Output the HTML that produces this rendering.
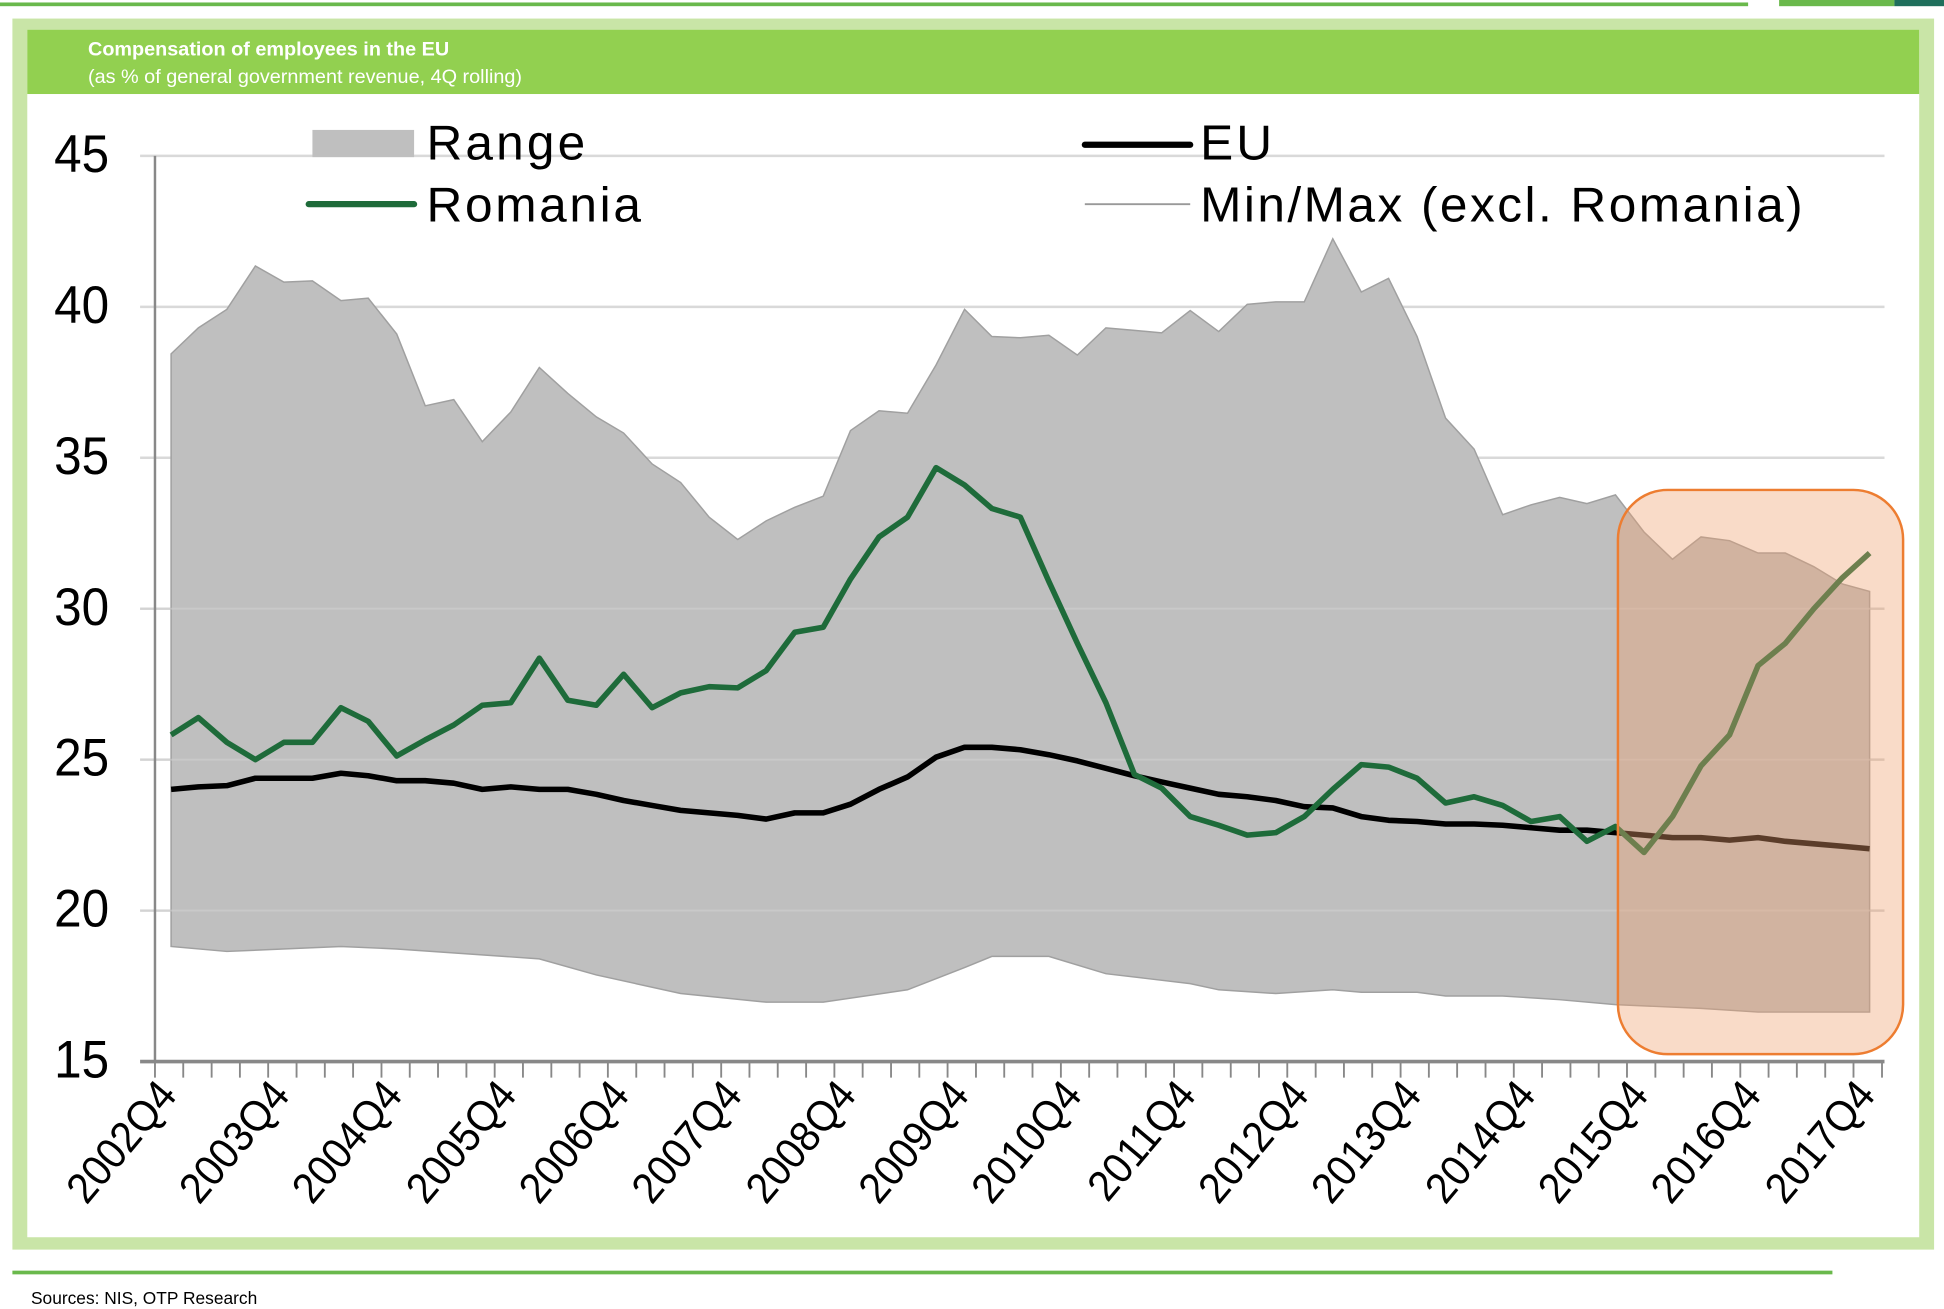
<!DOCTYPE html>
<html><head><meta charset="utf-8"><style>
html,body{margin:0;padding:0;background:#fff;width:1944px;height:1309px;overflow:hidden}
svg{display:block}
text{font-family:"Liberation Sans",Arial,sans-serif}
</style></head><body>
<svg width="1944" height="1309" viewBox="0 0 1568 1058" preserveAspectRatio="none" xmlns="http://www.w3.org/2000/svg">
<rect x="0" y="2" width="1410" height="3" fill="#6ab94c"/>
<rect x="1435" y="0" width="93" height="5" fill="#6ab94c"/>
<rect x="1528" y="0" width="40" height="5" fill="#1f6f5c"/>
<rect x="10" y="15" width="1550" height="995" fill="#c9e5a7"/>
<rect x="22" y="24" width="1526" height="976" fill="#fff"/>
<rect x="22" y="24" width="1526" height="52" fill="#92d050"/>
<text x="71" y="45" font-size="16" font-weight="bold" fill="#fff">Compensation of employees in the EU</text>
<text x="71" y="67" font-size="16" fill="#fff">(as % of general government revenue, 4Q rolling)</text>
<g stroke="#d9d9d9" stroke-width="2">
<line x1="113" y1="126" x2="1520" y2="126"/><line x1="113" y1="248" x2="1520" y2="248"/>
<line x1="113" y1="370" x2="1520" y2="370"/><line x1="113" y1="492" x2="1520" y2="492"/>
<line x1="113" y1="614" x2="1520" y2="614"/><line x1="113" y1="736" x2="1520" y2="736"/>
</g>
<polygon fill="#bfbfbf" stroke="#a0a0a0" stroke-width="1.2" points="138,286 160,265 183,250 206,215 229,228 252,227 275,243 297,241 320,270 343,328 366,323 389,357 412,333 435,297 458,318 481,337 503,350 526,375 549,390 572,418 595,436 618,421 641,410 664,401 686,348 709,332 732,334 755,295 778,250 800,272 823,273 846,271 869,287 892,265 915,267 937,269 960,251 983,268 1006,246 1029,244 1052,244 1075,193 1098,236 1120,225 1143,272 1166,338 1189,363 1212,416 1235,408 1258,402 1280,407 1303,400 1326,430 1349,452 1372,434 1395,437 1418,447 1440,447 1463,458 1486,472 1508,478 1508,818 1418,818 1372,815 1303,812 1258,808 1212,805 1166,805 1143,802 1098,802 1075,800 1029,803 983,800 960,795 892,787 846,773 800,773 778,782 732,800 664,810 618,810 549,803 481,788 435,775 320,767 275,765 183,769 138,765"/>
<g stroke="#d0d0d0" stroke-width="1.5" opacity="0.6">
<line x1="113" y1="492" x2="1520" y2="492"/><line x1="113" y1="614" x2="1520" y2="614"/><line x1="113" y1="736" x2="1520" y2="736"/>
</g>
<polyline fill="none" stroke="#000" stroke-width="4.5" stroke-linejoin="round" points="138,638 160,636 183,635 206,629 229,629 252,629 275,625 297,627 320,631 343,631 366,633 389,638 412,636 435,638 458,638 481,642 503,647 526,651 549,655 572,657 595,659 618,662 641,657 664,657 686,650 709,638 732,628 755,612 778,604 800,604 823,606 846,610 869,615 892,621 915,627 937,632 960,637 983,642 1006,644 1029,647 1052,652 1075,653 1098,660 1120,663 1143,664 1166,666 1189,666 1212,667 1235,669 1258,671 1280,671 1303,673 1326,675 1349,677 1372,677 1395,679 1418,677 1440,680 1463,682 1486,684 1508,686"/>
<polyline fill="none" stroke="#1e6b3a" stroke-width="4.5" stroke-linejoin="round" points="138,594 160,580 183,600 206,614 229,600 252,600 275,572 297,583 320,611 343,598 366,586 389,570 412,568 435,532 458,566 481,570 503,545 526,572 549,560 572,555 595,556 618,542 641,511 664,507 686,468 709,434 732,418 755,378 778,392 800,411 823,418 846,470 869,520 892,568 915,626 937,637 960,660 983,667 1006,675 1029,673 1052,660 1075,638 1098,618 1120,620 1143,629 1166,649 1189,644 1212,651 1235,664 1258,660 1280,680 1303,668 1326,689 1349,660 1372,619 1395,594 1418,538 1440,520 1463,492 1486,467 1508,447"/>
<rect x="1305" y="396" width="230" height="456" rx="40" fill="rgba(240,160,110,0.38)" stroke="#ed7d31" stroke-width="2"/>
<line x1="125" y1="126" x2="125" y2="858" stroke="#888" stroke-width="2"/>
<line x1="113" y1="858" x2="1520" y2="858" stroke="#888" stroke-width="3"/>
<path stroke="#888" stroke-width="1.5" d="M125 858V871M147.8 858V871M170.7 858V871M193.5 858V871M216.3 858V871M239.2 858V871M262 858V871M284.8 858V871M307.7 858V871M330.5 858V871M353.3 858V871M376.2 858V871M399 858V871M421.8 858V871M444.7 858V871M467.5 858V871M490.3 858V871M513.2 858V871M536 858V871M558.8 858V871M581.7 858V871M604.5 858V871M627.3 858V871M650.2 858V871M673 858V871M695.8 858V871M718.7 858V871M741.5 858V871M764.3 858V871M787.2 858V871M810 858V871M832.8 858V871M855.7 858V871M878.5 858V871M901.3 858V871M924.2 858V871M947 858V871M969.8 858V871M992.7 858V871M1015.5 858V871M1038.3 858V871M1061.2 858V871M1084 858V871M1106.8 858V871M1129.7 858V871M1152.5 858V871M1175.3 858V871M1198.2 858V871M1221 858V871M1243.8 858V871M1266.7 858V871M1289.5 858V871M1312.3 858V871M1335.2 858V871M1358 858V871M1380.8 858V871M1403.7 858V871M1426.5 858V871M1449.3 858V871M1472.2 858V871M1495 858V871M1518 858V871"/>
<g font-size="38" text-anchor="end" fill="#000">
<text transform="translate(88,139) scale(1.05,1.12)">45</text><text transform="translate(88,261) scale(1.05,1.12)">40</text><text transform="translate(88,383) scale(1.05,1.12)">35</text>
<text transform="translate(88,505) scale(1.05,1.12)">30</text><text transform="translate(88,627) scale(1.05,1.12)">25</text><text transform="translate(88,749) scale(1.05,1.12)">20</text><text transform="translate(88,871) scale(1.05,1.12)">15</text>
</g>
<g font-size="29" text-anchor="end" fill="#000">
<text transform="translate(144,886) rotate(-50) scale(1.12,1.2)">2002Q4</text>
<text transform="translate(235,886) rotate(-50) scale(1.12,1.2)">2003Q4</text>
<text transform="translate(326,886) rotate(-50) scale(1.12,1.2)">2004Q4</text>
<text transform="translate(418,886) rotate(-50) scale(1.12,1.2)">2005Q4</text>
<text transform="translate(509,886) rotate(-50) scale(1.12,1.2)">2006Q4</text>
<text transform="translate(600,886) rotate(-50) scale(1.12,1.2)">2007Q4</text>
<text transform="translate(692,886) rotate(-50) scale(1.12,1.2)">2008Q4</text>
<text transform="translate(783,886) rotate(-50) scale(1.12,1.2)">2009Q4</text>
<text transform="translate(874,886) rotate(-50) scale(1.12,1.2)">2010Q4</text>
<text transform="translate(966,886) rotate(-50) scale(1.12,1.2)">2011Q4</text>
<text transform="translate(1057,886) rotate(-50) scale(1.12,1.2)">2012Q4</text>
<text transform="translate(1148,886) rotate(-50) scale(1.12,1.2)">2013Q4</text>
<text transform="translate(1240,886) rotate(-50) scale(1.12,1.2)">2014Q4</text>
<text transform="translate(1331,886) rotate(-50) scale(1.12,1.2)">2015Q4</text>
<text transform="translate(1422,886) rotate(-50) scale(1.12,1.2)">2016Q4</text>
<text transform="translate(1514,886) rotate(-50) scale(1.12,1.2)">2017Q4</text>
</g>
<rect x="252" y="105" width="82" height="22" fill="#bfbfbf"/>
<line x1="249" y1="165" x2="334" y2="165" stroke="#1e6b3a" stroke-width="5" stroke-linecap="round"/>
<line x1="875" y1="117" x2="960" y2="117" stroke="#000" stroke-width="5" stroke-linecap="round"/>
<line x1="875" y1="165" x2="960" y2="165" stroke="#999" stroke-width="1.5"/>
<g font-size="40" fill="#000">
<text x="344" y="129" textLength="128">Range</text>
<text x="344" y="179" textLength="173">Romania</text>
<text x="968" y="129" textLength="58">EU</text>
<text x="968" y="179" textLength="486">Min/Max (excl. Romania)</text>
</g>
<rect x="10" y="1027" width="1468" height="3" fill="#6ab94c"/>
<text x="25" y="1054" font-size="14" fill="#000">Sources: NIS, OTP Research</text>
</svg>
</body></html>
